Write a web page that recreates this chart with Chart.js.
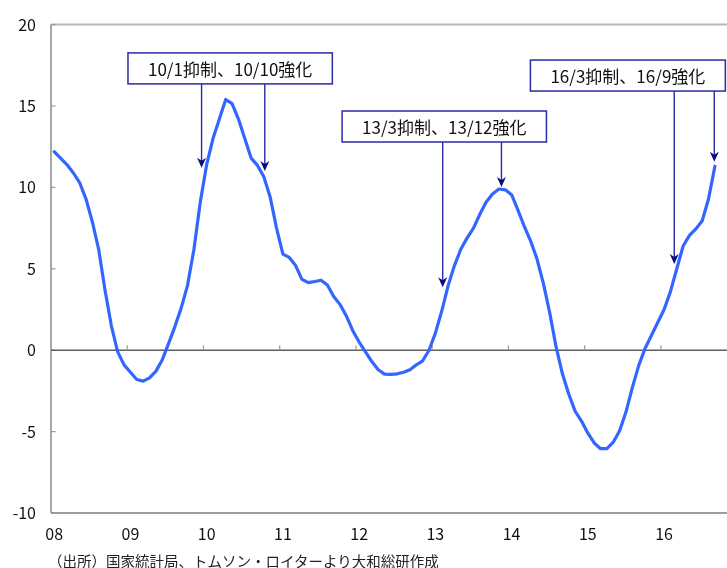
<!DOCTYPE html>
<html>
<head>
<meta charset="utf-8">
<script src="https://cdn.jsdelivr.net/npm/chart.js@4/dist/chart.umd.min.js"></script>
<style>
  html, body { margin: 0; padding: 0; background: #fff; overflow: hidden; width: 727px; height: 568px; }
  #wrap { position: relative; width: 745px; height: 568px; }
  #note { position: absolute; left: 48px; top: 553px; font: 14.5px "Noto Sans CJK JP", sans-serif; color: #222; white-space: nowrap; line-height: 16px; }
</style>
</head>
<body>
<div id="wrap">
  <canvas id="chart" width="745" height="568"></canvas>
  <div id="note">（出所）国家統計局、トムソン・ロイターより大和総研作成</div>
</div>
<script>
// Year labels shown under the axis (first month of each year)
const yearLabels = ['08', '09', '10', '11', '12', '13', '14', '15', '16'];

// Monthly values, 2008/1 - 2016/9 (%)
const values2008 = [12.2, 11.8, 11.4, 10.9, 10.3, 9.3, 7.9, 6.2, 3.7, 1.5, -0.1, -0.9];
const values2009 = [-1.35, -1.8, -1.9, -1.7, -1.3, -0.6, 0.4, 1.45, 2.6, 4.0, 6.2, 9.1];
const values2010 = [11.4, 13.0, 14.2, 15.4, 15.15, 14.2, 13.0, 11.8, 11.35, 10.65, 9.4, 7.5];
const values2011 = [5.9, 5.7, 5.2, 4.35, 4.15, 4.22, 4.3, 4.0, 3.3, 2.8, 2.1, 1.2];
const values2012 = [0.5, -0.1, -0.7, -1.2, -1.47, -1.49, -1.45, -1.35, -1.2, -0.9, -0.65, 0.0];
const values2013 = [1.05, 2.4, 3.95, 5.2, 6.2, 6.9, 7.5, 8.35, 9.1, 9.6, 9.9, 9.85];
const values2014 = [9.55, 8.6, 7.6, 6.7, 5.6, 4.1, 2.3, 0.2, -1.45, -2.7, -3.75, -4.35];
const values2015 = [-5.1, -5.7, -6.05, -6.04, -5.65, -4.95, -3.8, -2.3, -0.95, 0.1, 0.9, 1.7];
const values2016 = [2.5, 3.6, 5.0, 6.4, 7.05, 7.45, 7.95, 9.3, 11.3];

const seriesValues = [].concat(values2008, values2009, values2010, values2011, values2012,
                               values2013, values2014, values2015, values2016);

// Value axis ticks
const yTicks = [-10, -5, 0, 5, 10, 15, 20];

// Policy-change callouts
const calloutTexts = ['10/1抑制、10/10強化', '13/3抑制、13/12強化', '16/3抑制、16/9強化'];

// Month category labels "08/1" ... "16/12"
const monthLabels = [];
yearLabels.forEach(y => { for (let m = 1; m <= 12; m++) monthLabels.push(y + '/' + m); });

const FONT = '"Noto Sans CJK JP", "Noto Sans", sans-serif';

// Frame, zero line and small tick marks
const framePlugin = {
  id: 'frame',
  beforeDatasetsDraw(chart) {
    const { ctx, chartArea: a, scales: { x, y } } = chart;
    ctx.save();
    ctx.lineCap = 'butt';
    // top border
    ctx.strokeStyle = '#b8b8b8'; ctx.lineWidth = 2;
    ctx.beginPath(); ctx.moveTo(a.left, a.top); ctx.lineTo(a.right, a.top); ctx.stroke();
    // left axis
    ctx.strokeStyle = '#8a8a8a'; ctx.lineWidth = 1.5;
    ctx.beginPath(); ctx.moveTo(a.left, a.top); ctx.lineTo(a.left, a.bottom); ctx.stroke();
    // bottom axis
    ctx.strokeStyle = '#7c7c7c'; ctx.lineWidth = 1.5;
    ctx.beginPath(); ctx.moveTo(a.left, a.bottom); ctx.lineTo(a.right, a.bottom); ctx.stroke();
    // inside ticks on value axis
    ctx.strokeStyle = '#9a9a9a'; ctx.lineWidth = 1.2;
    yTicks.forEach(t => {
      const py = y.getPixelForValue(t);
      ctx.beginPath(); ctx.moveTo(a.left, py); ctx.lineTo(a.left + 4.5, py); ctx.stroke();
    });
    // zero line
    const y0 = y.getPixelForValue(0);
    ctx.strokeStyle = '#5e5e5e'; ctx.lineWidth = 1.5;
    ctx.beginPath(); ctx.moveTo(a.left, y0); ctx.lineTo(a.right, y0); ctx.stroke();
    // year boundary ticks on zero line
    ctx.strokeStyle = '#9a9a9a'; ctx.lineWidth = 1.2;
    for (let k = 1; k < yearLabels.length; k++) {
      const px = x.getPixelForValue(k * 12 - 0.5);
      ctx.beginPath(); ctx.moveTo(px, y0); ctx.lineTo(px, y0 - 5); ctx.stroke();
    }
    ctx.restore();
  }
};

// Boxed notes with arrows pointing at the series
const calloutPlugin = {
  id: 'callouts',
  afterDatasetsDraw(chart, args, opts) {
    const { ctx, scales: { x, y } } = chart;
    ctx.save();
    ctx.font = opts.font;
    opts.items.forEach((c, idx) => {
      const text = calloutTexts[idx];
      const tw = ctx.measureText(text).width;
      const w = tw + 2 * opts.padX, h = opts.height;
      const cx = x.getPixelForValue(c.month), cy = y.getPixelForValue(c.value);
      const bx = cx - w / 2, by = cy - h / 2;
      c.arrows.forEach(ar => {
        const ax = x.getPixelForValue(ar.month);
        const tip = y.getPixelForValue(ar.tip);
        ctx.strokeStyle = opts.arrowColor; ctx.lineWidth = 1.4;
        ctx.beginPath(); ctx.moveTo(ax, by + h); ctx.lineTo(ax, tip - 6); ctx.stroke();
        ctx.fillStyle = opts.headColor;
        ctx.beginPath();
        ctx.moveTo(ax, tip);
        ctx.lineTo(ax - 4.5, tip - 10);
        ctx.lineTo(ax, tip - 7);
        ctx.lineTo(ax + 4.5, tip - 10);
        ctx.closePath(); ctx.fill();
      });
      ctx.fillStyle = '#fff';
      ctx.fillRect(bx, by, w, h);
      ctx.strokeStyle = opts.border; ctx.lineWidth = 1.5;
      ctx.strokeRect(bx, by, w, h);
      ctx.fillStyle = '#111';
      ctx.textAlign = 'center'; ctx.textBaseline = 'middle';
      ctx.fillText(text, cx, cy + 1);
    });
    ctx.restore();
  }
};

new Chart(document.getElementById('chart'), {
  type: 'line',
  data: {
    labels: monthLabels,
    datasets: [{
      data: seriesValues,
      borderColor: '#3366ff',
      borderWidth: 3.2,
      pointRadius: 0,
      tension: 0,
      borderJoinStyle: 'round',
      borderCapStyle: 'round',
      fill: false
    }]
  },
  options: {
    responsive: false,
    animation: false,
    layout: { padding: { top: 23, right: 6, left: 0, bottom: 0 } },
    plugins: {
      legend: { display: false },
      tooltip: { enabled: false },
      callouts: {
        font: '17px ' + FONT,
        padX: 20,
        height: 31,
        border: '#2b2ba6',
        arrowColor: '#2a2aa0',
        headColor: '#0c0c80',
        items: [
          { month: 27.7, value: 17.31, arrows: [{ month: 23.2, tip: 11.2 }, { month: 33.15, tip: 11.0 }] },
          { month: 61.4, value: 13.74, arrows: [{ month: 61.15, tip: 3.86 }, { month: 70.4, tip: 10.02 }] },
          { month: 90.3, value: 16.87, arrows: [{ month: 97.6, tip: 5.29 }, { month: 103.9, tip: 11.57 }] }
        ]
      }
    },
    scales: {
      x: {
        type: 'category',
        offset: true,
        grid: { display: false, drawTicks: false },
        border: { display: false },
        afterFit: s => { s.height = 55; },
        ticks: {
          autoSkip: false,
          maxRotation: 0,
          padding: 11,
          color: '#111',
          font: { family: FONT, size: 16 },
          callback: (v, i) => (i % 12 === 0 ? yearLabels[i / 12] : '')
        }
      },
      y: {
        min: -10,
        max: 20,
        afterFit: s => { s.width = 51; },
        afterBuildTicks: s => { s.ticks = yTicks.map(v => ({ value: v })); },
        grid: { display: false, drawTicks: false },
        border: { display: false },
        ticks: {
          padding: 15,
          color: '#111',
          font: { family: FONT, size: 16 }
        }
      }
    }
  },
  plugins: [framePlugin, calloutPlugin]
});
</script>
</body>
</html>
